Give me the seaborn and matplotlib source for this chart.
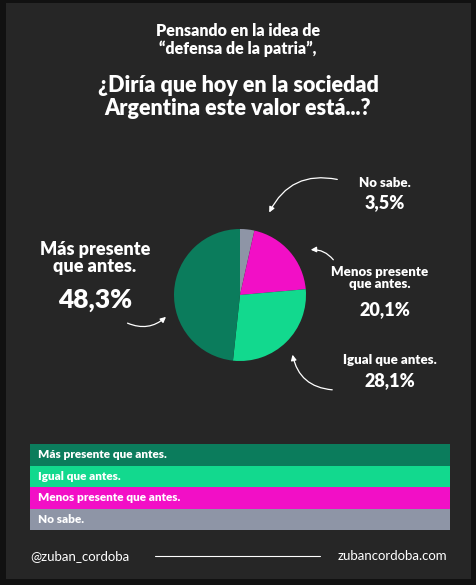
import matplotlib.pyplot as plt
import seaborn as sns

sns.set_theme(style="dark")
plt.rcParams['font.family'] = ['Lato', 'DejaVu Sans']

labels = ["No sabe.", "Menos presente que antes.", "Igual que antes.", "Más presente que antes."]
values = [3.5, 20.1, 28.1, 48.3]
colors = ["#8e95a6", "#f20fc6", "#12d98e", "#0b7c5c"]
legend_order = [3, 2, 1, 0]

bg = "#262626"
fig = plt.figure(figsize=(4.77, 5.85), dpi=100, facecolor="#111111")
frame = fig.add_axes([0.012, 0.01, 0.976, 0.985])
frame.set_facecolor(bg)
frame.set_xticks([]); frame.set_yticks([])
for s in frame.spines.values():
    s.set_visible(False)

W, H = 477, 585
def fx(x): return x / W
def fy(y): return 1 - y / H

fig.text(fx(238), fy(40), "Pensando en la idea de\n\u201cdefensa de la patria\u201d,", color="white",
         ha="center", va="center", fontsize=11.5, fontweight="heavy", linespacing=1.1)
fig.text(fx(238), fy(97), "¿Diría que hoy en la sociedad\nArgentina este valor está...?", color="white",
         ha="center", va="center", fontsize=15.5, fontweight="heavy", linespacing=1.1)

r = 66
ax = fig.add_axes([fx(240 - r), fy(295 + r), 2 * r / W, 2 * r / H])
ax.pie(values, colors=colors, startangle=90, counterclock=False,
       wedgeprops=dict(linewidth=0))
ax.set_xlim(-1, 1)
ax.set_ylim(-1, 1)
ax.set_aspect("equal")
ax.set_facecolor("none")

# labels
fig.text(fx(95), fy(258), "Más presente\nque antes.", color="white", ha="center", va="center",
         fontsize=13, fontweight="heavy", linespacing=1.05)
fig.text(fx(95), fy(300), "48,3%", color="white", ha="center", va="center", fontsize=19, fontweight="heavy")
fig.text(fx(385), fy(183), "No sabe.", color="white", ha="center", va="center", fontsize=9.5, fontweight="heavy")
fig.text(fx(385), fy(203), "3,5%", color="white", ha="center", va="center", fontsize=13, fontweight="heavy")
fig.text(fx(380), fy(278), "Menos presente\nque antes.", color="white", ha="center", va="center",
         fontsize=9.5, fontweight="heavy", linespacing=1.05)
fig.text(fx(385), fy(310), "20,1%", color="white", ha="center", va="center", fontsize=13, fontweight="heavy")
fig.text(fx(390), fy(360), "Igual que antes.", color="white", ha="center", va="center", fontsize=9.5, fontweight="heavy")
fig.text(fx(390), fy(381), "28,1%", color="white", ha="center", va="center", fontsize=13, fontweight="heavy")

arrow = dict(arrowstyle="-|>", color="white", lw=0.9, mutation_scale=8)
def arc(x1, y1, x2, y2, rad):
    frame.annotate("", xy=(fx(x2), fy(y2)), xytext=(fx(x1), fy(y1)), xycoords="figure fraction",
                   textcoords="figure fraction",
                   arrowprops=dict(connectionstyle=f"arc3,rad={rad}", **arrow))
arc(340, 180, 268, 215, 0.4)
arc(335, 262, 308, 250, 0.3)
arc(335, 390, 292, 352, -0.4)
arc(125, 322, 168, 315, 0.35)

# legend bars
y0, bh = 444, 21.5
for i, idx in enumerate(legend_order):
    y = y0 + i * bh
    frame.add_patch(plt.Rectangle((fx(30), fy(y + bh)), fx(420), bh / H, color=colors[idx],
                                  transform=fig.transFigure, lw=0))
    fig.text(fx(38), fy(y + bh / 2), labels[idx], color="white", ha="left", va="center",
             fontsize=8.5, fontweight="heavy")

fig.text(fx(30), fy(556), "@zuban_cordoba", color="white", ha="left", va="center", fontsize=9.5)
fig.text(fx(447), fy(556), "zubancordoba.com", color="white", ha="right", va="center", fontsize=9.5)
frame.plot([fx(155), fx(320)], [fy(556), fy(556)], color="white", lw=0.8, transform=fig.transFigure)

fig.savefig("out.png", dpi=100, facecolor=fig.get_facecolor())
